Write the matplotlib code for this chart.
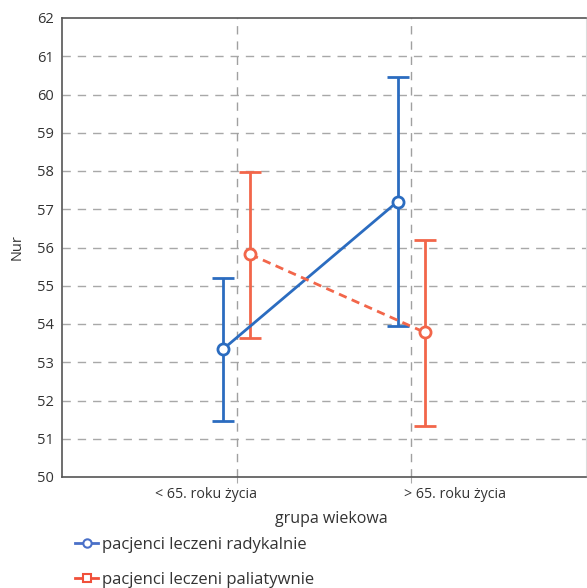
import matplotlib
matplotlib.use("Agg")
import matplotlib.pyplot as plt
from matplotlib.lines import Line2D
import numpy as np

categories = ["< 65. roku życia", "> 65. roku życia"]
series_names = ["pacjenci leczeni radykalnie", "pacjenci leczeni paliatywnie"]
radykalnie_mean = [53.34, 57.20]
radykalnie_low = [51.46, 53.95]
radykalnie_high = [55.21, 60.47]
paliatywnie_mean = [55.82, 53.78]
paliatywnie_low = [53.63, 51.34]
paliatywnie_high = [57.98, 56.20]
yticks = list(range(50, 63))
category_label_pos = [0.823, 2.25]

plt.rcParams['font.family'] = ['Open Sans', 'DejaVu Sans']

blue = "#2b6cc0"
orange = "#f2664a"

fig = plt.figure(figsize=(5.87, 5.88), dpi=100)
ax = fig.add_axes([62/587, 1-477/588, 1-62/587-0.002, (477-18)/588])

xpos = np.array([1, 2], dtype=float)
off = 0.078

for y in yticks[1:-1]:
    ax.axhline(y, color="#a8a8a8", lw=1.0, ls=(0, (6, 5)), zorder=0)
for x in xpos:
    ax.axvline(x, color="#a0a0a0", lw=1.0, ls=(0, (6, 5)), zorder=0)

def draw(xs, mean, low, high, color, ls, marker):
    mean = np.array(mean); low = np.array(low); high = np.array(high)
    ax.errorbar(xs, mean, yerr=[mean - low, high - mean], fmt='none',
                ecolor=color, elinewidth=2, capsize=8, capthick=2, zorder=2)
    ax.plot(xs, mean, color=color, lw=2, ls=ls, zorder=3)
    ax.plot(xs, mean, ls='none', marker=marker, ms=8, mfc='white', mec=color,
            mew=2, zorder=4)

draw(xpos - off, radykalnie_mean, radykalnie_low, radykalnie_high, blue, '-', 'o')
draw(xpos + off, paliatywnie_mean, paliatywnie_low, paliatywnie_high, orange, (0, (3, 2)), 'o')

ax.set_xlim(0, 3)
ax.set_ylim(50, 62)
ax.set_yticks(yticks)
ax.set_yticklabels([str(v) for v in yticks])
ax.set_xticks(xpos)
ax.set_xticklabels(["", ""])
ax.set_xticks(category_label_pos, minor=True)
ax.set_xticklabels(categories, minor=True)
ax.tick_params(axis='y', length=0, labelsize=10.5, colors="#333333", pad=6)
ax.tick_params(axis='x', which='major', length=4, color="#aaaaaa")
ax.tick_params(axis='x', which='minor', length=0, labelsize=10.3, colors="#333333", pad=7)
for s in ['left', 'bottom', 'top']:
    ax.spines[s].set_color("#555555")
    ax.spines[s].set_linewidth(1.2)
ax.spines['right'].set_color("#dddddd")

ax.set_ylabel("Nur", fontsize=10.5, color="#333333", labelpad=9)
ax.set_xlabel("grupa wiekowa", fontsize=11.5, color="#333333")
ax.xaxis.set_label_coords(0.515, -0.075)

handles = [
    Line2D([0], [0], color="#4a70c8", lw=2, marker='o', ms=6, mfc='white', mec="#4a70c8", mew=1.5),
    Line2D([0], [0], color="#f0503a", lw=2, marker='s', ms=6, mfc='white', mec="#f0503a", mew=1.5),
]
fig.legend(handles, series_names, loc='lower left', bbox_to_anchor=(0.117, -0.011),
           borderaxespad=0, frameon=False, fontsize=12, handlelength=1.35, handletextpad=0.25,
           labelspacing=1.15, labelcolor="#333333")

fig.savefig("out.png", dpi=100)
